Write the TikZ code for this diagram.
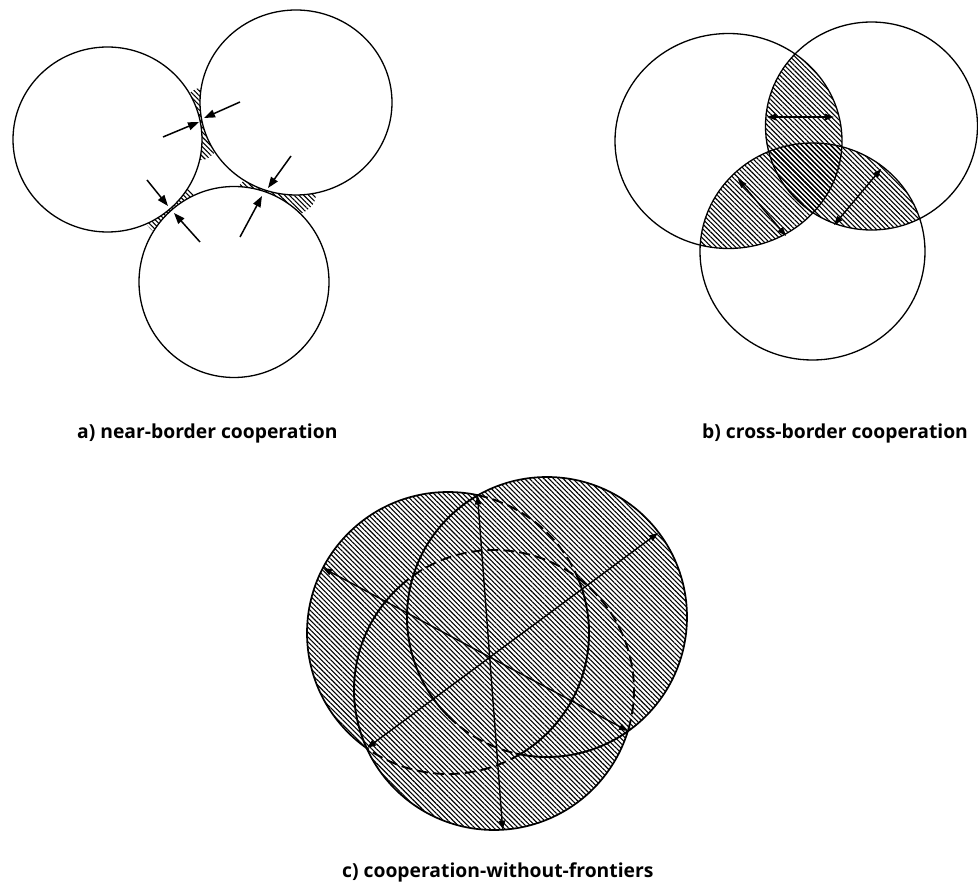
\documentclass[tikz,border=0pt]{standalone}
\usepackage{fontspec}
\setmainfont{Open Sans}
\usetikzlibrary{arrows.meta,patterns.meta}
\begin{document}
\begin{tikzpicture}[x=1pt,y=-1pt,
  hatch/.style={pattern={Lines[angle=-45,distance=3.4pt,line width=1.1pt]}},
  ring/.style={draw=black,line width=1.3pt},
  ringc/.style={draw=black,line width=1.7pt},
  dashc/.style={draw=black,line width=1.9pt,dash pattern=on 11pt off 5pt},
  solc/.style={draw=black,line width=1.9pt},
  tip/.style={-{Triangle[length=11pt,width=8pt]},line width=1.5pt},
  dtip/.style={{Triangle[length=9pt,width=6.5pt]}-{Triangle[length=9pt,width=6.5pt]},line width=1.4pt},
  lbl/.style={font=\bfseries\fontsize{19.3}{19.3}\selectfont,anchor=base west,inner sep=0pt}
]
\useasboundingbox (0,0) rectangle (978,882);

% ---------------- panel a ----------------
\coordinate (T1) at (201,121);
\coordinate (T2) at (170,209);
\coordinate (T3) at (268,192);
\fill[hatch] (T1) ++(0,3) ellipse[x radius=22,y radius=36];
\fill[hatch] (T2) circle[radius=28];
\fill[hatch] (T3) ++(8,3) ellipse[x radius=40,y radius=24];
\fill[white] (107.5,139.5) ellipse[x radius=94.5,y radius=92.5];
\fill[white] (296,102.5) ellipse[x radius=96,y radius=92.5];
\fill[white] (234,282) ellipse[x radius=95,y radius=95.5];
\draw[ring] (107.5,139.5) ellipse[x radius=94.5,y radius=92.5];
\draw[ring] (296,102.5) ellipse[x radius=96,y radius=92.5];
\draw[ring] (234,282) ellipse[x radius=95,y radius=95.5];
\coordinate (a1s) at (163,137); \coordinate (a1t) at (199,122);
\coordinate (a2s) at (240,102); \coordinate (a2t) at (204,118);
\coordinate (a3s) at (147,180); \coordinate (a3t) at (168,206);
\coordinate (a4s) at (200,242); \coordinate (a4t) at (174,213);
\coordinate (a5s) at (291,156); \coordinate (a5t) at (268,188);
\coordinate (a6s) at (240,237); \coordinate (a6t) at (262,196);
\draw[tip] (a1s) -- (a1t);
\draw[tip] (a2s) -- (a2t);
\draw[tip] (a3s) -- (a3t);
\draw[tip] (a4s) -- (a4t);
\draw[tip] (a5s) -- (a5t);
\draw[tip] (a6s) -- (a6t);

% ---------------- panel b ----------------
\begin{scope}
  \clip (728.5,141) ellipse[x radius=113.5,y radius=107.5];
  \fill[hatch] (871.5,126) ellipse[x radius=106.5,y radius=104];
  \fill[hatch] (812.5,251.5) ellipse[x radius=112.5,y radius=108.5];
\end{scope}
\begin{scope}
  \clip (871.5,126) ellipse[x radius=106.5,y radius=104];
  \fill[hatch] (812.5,251.5) ellipse[x radius=112.5,y radius=108.5];
\end{scope}
\draw[ring] (728.5,141) ellipse[x radius=113.5,y radius=107.5];
\draw[ring] (871.5,126) ellipse[x radius=106,y radius=104];
\draw[ring] (812.5,251.5) ellipse[x radius=112.5,y radius=108.5];
\coordinate (b1s) at (767,117); \coordinate (b1t) at (834,117);
\coordinate (b2s) at (738,179); \coordinate (b2t) at (786,236);
\coordinate (b3s) at (834,225); \coordinate (b3t) at (881,169);
\draw[dtip] (b1s) -- (b1t);
\draw[dtip] (b2s) -- (b2t);
\draw[dtip] (b3s) -- (b3t);

% ---------------- panel c ----------------
% A: (448,633) r141 ; B: (547,617) r140 ; C: (494,690) r140
\fill[hatch] (448,633) circle[radius=141] (547,617) circle[radius=140] (494,690) circle[radius=140];
% inner arcs
\draw[dashc] (448,633) ++(281.9:141) arc[start angle=281.9,end angle=337.1,radius=141];
\draw[solc]  (448,633) ++(337.1:141) arc[start angle=337.1,end angle=419.2,radius=141];
\draw[dashc] (448,633) ++(419.2:141) arc[start angle=419.2,end angle=485.2,radius=141];
\draw[solc]  (547,617) ++(240.2:140) arc[start angle=240.2,end angle=135,radius=140];
\draw[dashc] (547,617) ++(135:140) arc[start angle=135,end angle=103,radius=140];
\draw[solc]  (547,617) ++(103:140) arc[start angle=103,end angle=54.6,radius=140];
\draw[solc]  (494,690) ++(155.5:140) arc[start angle=155.5,end angle=228,radius=140];
\draw[dashc] (494,690) ++(228:140) arc[start angle=228,end angle=377,radius=140];
% outer outline
\begin{scope}
  \clip (0,0) -- (978,0) -- (978,882) -- (0,882) -- cycle (687,617) arc[start angle=0,end angle=-360,radius=140] -- cycle;
  \clip (0,0) -- (978,0) -- (978,882) -- (0,882) -- cycle (634,690) arc[start angle=0,end angle=-360,radius=140] -- cycle;
  \draw[ringc] (448,633) circle[radius=141];
\end{scope}
\begin{scope}
  \clip (0,0) -- (978,0) -- (978,882) -- (0,882) -- cycle (589,633) arc[start angle=0,end angle=-360,radius=141] -- cycle;
  \clip (0,0) -- (978,0) -- (978,882) -- (0,882) -- cycle (634,690) arc[start angle=0,end angle=-360,radius=140] -- cycle;
  \draw[ringc] (547,617) circle[radius=140];
\end{scope}
\begin{scope}
  \clip (0,0) -- (978,0) -- (978,882) -- (0,882) -- cycle (589,633) arc[start angle=0,end angle=-360,radius=141] -- cycle;
  \clip (0,0) -- (978,0) -- (978,882) -- (0,882) -- cycle (687,617) arc[start angle=0,end angle=-360,radius=140] -- cycle;
  \draw[ringc] (494,690) circle[radius=140];
\end{scope}
\coordinate (c1s) at (477.5,495.5); \coordinate (c1t) at (502.7,829.6);
\coordinate (c2s) at (367,748);     \coordinate (c2t) at (658,533);
\coordinate (c3s) at (628,731);     \coordinate (c3t) at (323,568);
\draw[dtip] (c1s) -- (c1t);
\draw[dtip] (c2s) -- (c2t);
\draw[dtip] (c3s) -- (c3t);

% ---------------- labels ----------------
\node[lbl] (la) at (77,439) {a) near-border cooperation};
\node[lbl] (lb) at (702,439) {b) cross-border cooperation};
\node[lbl] (lc) at (342,877) {c) cooperation-without-frontiers};
\end{tikzpicture}
\end{document}
